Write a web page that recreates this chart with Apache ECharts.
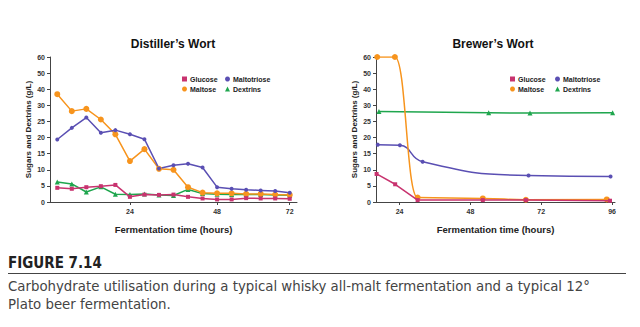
<!DOCTYPE html>
<html>
<head>
<meta charset="utf-8">
<script src="https://cdn.jsdelivr.net/npm/echarts@6/dist/echarts.min.js"></script>
<style>
html,body{margin:0;padding:0;background:#fff;}
#c{width:640px;height:327px;}
</style>
</head>
<body>
<div id="c"></div>
<script>
// ---- data ----
const seriesNames = ['Glucose', 'Maltotriose', 'Maltose', 'Dextrins'];
const yTickLabels = [0, 5, 10, 15, 20, 25, 30, 40, 50, 60];

// Distiller's wort: 17 samples, category axis, labels only at some samples
const leftSamples = ['s1','s2','s3','s4','s5','s6','s7','s8','s9','s10','s11','s12','s13','s14','s15','s16','s17'];
const leftTickLabels = {5: '24', 11: '48', 16: '72'};
const leftGlucose     = [4.4, 4.1, 4.6, 4.9, 5.3, 1.6, 2.3, 2.2, 2.3, 1.6, 1.1, 0.8, 0.8, 1.2, 1.1, 1.1, 1.0];
const leftMaltotriose = [19.4, 23.0, 26.2, 21.5, 22.3, 21.0, 19.5, 10.4, 11.4, 11.9, 10.7, 4.6, 4.1, 3.8, 3.6, 3.4, 2.9];
const leftMaltose     = [36.9, 28.2, 28.9, 25.6, 21.0, 12.7, 16.4, 10.3, 10.0, 4.6, 2.9, 2.7, 2.7, 2.5, 2.5, 2.3, 2.2];
const leftDextrins    = [6.2, 5.6, 3.1, 4.7, 2.4, 2.3, 2.5, 2.2, 2.0, 3.9, 2.6, 2.4, 2.3, 2.3, 2.3, 2.2, 2.1];

// Brewer's wort: time (hours) and values
const rightTicks = [24, 48, 72, 96];
const rightGlucoseT     = [16.2, 22.5, 30.1, 52.2, 66.8, 95.3];
const rightGlucose      = [8.7, 5.5, 0.6, 0.6, 0.6, 0.4];
const rightMaltoseT     = [16.4, 22.4, 30.1, 52.2, 66.8, 94.2];
const rightMaltose      = [60, 60, 1.4, 1.1, 0.7, 0.8];
const rightMaltotrioseT = [16.6, 24.1, 31.8, 67.7, 95.5];
const rightMaltotriose  = [17.8, 17.6, 12.5, 8.2, 7.9];
const rightDextrinsT    = [17.0, 54.2, 68.2, 96.2];
const rightDextrins     = [28.1, 27.7, 27.6, 27.7];

// ---- styling ----
const colors = {Glucose: '#c8336f', Maltotriose: '#5a4fb3', Maltose: '#f7941d', Dextrins: '#1fa64e'};
const symbols = {Glucose: 'rect', Maltotriose: 'circle', Maltose: 'circle', Dextrins: 'triangle'};
const symSizes = {Glucose: 4, Maltotriose: 4, Maltose: 6, Dextrins: 5};
const FONT = '"Liberation Sans", Arial, Helvetica, sans-serif';
const CAPFONT = '"Liberation Sans Narrow", "DejaVu Sans Condensed", ' + FONT;

// the printed axis is evenly spaced but labelled 0..30 by 5 then 40,50,60
function toAxis(v) {
  for (let i = 0; i < yTickLabels.length - 1; i++) {
    const a = yTickLabels[i], b = yTickLabels[i + 1];
    if (v <= b || i === yTickLabels.length - 2) {
      return i * 5 + 5 * (v - a) / (b - a);
    }
  }
  return 0;
}

function lineSeries(name, idx, data, smooth, mono) {
  const s = {
    type: 'line', name: name, xAxisIndex: idx, yAxisIndex: idx,
    data: data, smooth: smooth || false,
    symbol: symbols[name], symbolSize: symSizes[name], showAllSymbol: true,
    lineStyle: {color: colors[name], width: 1.5},
    itemStyle: {color: colors[name]},
    emphasis: {disabled: true}, animation: false, z: name === 'Glucose' ? 3 : 2
  };
  if (mono) s.smoothMonotone = 'x';
  return s;
}

const series = [
  lineSeries('Dextrins', 0, leftDextrins.map(toAxis)),
  lineSeries('Maltose', 0, leftMaltose.map(toAxis)),
  lineSeries('Maltotriose', 0, leftMaltotriose.map(toAxis)),
  lineSeries('Glucose', 0, leftGlucose.map(toAxis)),
  lineSeries('Dextrins', 1, rightDextrinsT.map((t, i) => [t, toAxis(rightDextrins[i])])),
  lineSeries('Maltotriose', 1, rightMaltotrioseT.map((t, i) => [t, toAxis(rightMaltotriose[i])]), 0.5, false),
  lineSeries('Maltose', 1, rightMaltoseT.map((t, i) => [t, toAxis(rightMaltose[i])]), 0.5, true),
  lineSeries('Glucose', 1, rightGlucoseT.map((t, i) => [t, toAxis(rightGlucose[i])]))
];

const axisLineStyle = {show: true, lineStyle: {color: '#444', width: 1}};
const tickLabelStyle = {color: '#333', fontSize: 7, fontWeight: 'bold', fontFamily: FONT};
const nameStyle = {color: '#222', fontSize: 9.5, fontWeight: 'bold', fontFamily: FONT};

function yAxis(gi) {
  return {
    type: 'value', gridIndex: gi, min: 0, max: 45, interval: 5,
    axisLine: axisLineStyle,
    axisTick: {show: true, inside: false, length: 3, lineStyle: {color: '#444'}},
    axisLabel: Object.assign({margin: 5, formatter: v => String(yTickLabels[Math.round(v / 5)])}, tickLabelStyle),
    splitLine: {show: false},
    name: 'Sugars and Dextrins (g/L)', nameLocation: 'middle', nameRotate: 90, nameGap: 18,
    nameTextStyle: {color: '#222', fontSize: 8, fontWeight: 'bold', fontFamily: FONT}
  };
}

function legendCol(names, left) {
  return {
    orient: 'vertical', left: left, top: 75, padding: 0,
    itemWidth: 5, itemHeight: 5, itemGap: 2,
    selectedMode: false,
    data: names.map(n => ({name: n, icon: symbols[n], itemStyle: {color: colors[n]}})),
    textStyle: {color: '#222', fontSize: 7, fontWeight: 'bold', fontFamily: FONT, lineHeight: 8, padding: [0, 0, 0, -2]}
  };
}

const option = {
  animation: false,
  grid: [
    {left: 50, top: 57, width: 247, height: 145},
    {left: 376, top: 57, width: 239, height: 145}
  ],
  xAxis: [
    {
      type: 'category', gridIndex: 0, data: leftSamples, boundaryGap: true,
      axisLine: axisLineStyle,
      axisTick: {show: true, alignWithLabel: true, length: 3, interval: (i) => leftTickLabels[i] !== undefined, lineStyle: {color: '#444'}},
      axisLabel: Object.assign({interval: 0, margin: 6, formatter: (v, i) => leftTickLabels[i] || ''}, tickLabelStyle),
      name: 'Fermentation time (hours)', nameLocation: 'middle', nameGap: 22, nameTextStyle: nameStyle
    },
    {
      type: 'value', gridIndex: 1, min: 16, max: 97,
      axisLine: axisLineStyle,
      axisTick: {show: true, length: 3, customValues: rightTicks, lineStyle: {color: '#444'}},
      axisLabel: Object.assign({margin: 6, customValues: rightTicks}, tickLabelStyle),
      splitLine: {show: false},
      name: 'Fermentation time (hours)', nameLocation: 'middle', nameGap: 22, nameTextStyle: nameStyle
    }
  ],
  yAxis: [yAxis(0), yAxis(1)],
  legend: [
    legendCol(['Glucose', 'Maltose'], 182),
    legendCol(['Maltotriose', 'Dextrins'], 225),
    legendCol(['Glucose', 'Maltose'], 510),
    legendCol(['Maltotriose', 'Dextrins'], 555)
  ],
  graphic: [
    {type: 'text', x: 173, y: 44, style: {text: 'Distiller\u2019s Wort', fill: '#111', font: 'bold 12px ' + FONT, align: 'center', verticalAlign: 'middle'}},
    {type: 'text', x: 493, y: 44, style: {text: 'Brewer\u2019s Wort', fill: '#111', font: 'bold 12px ' + FONT, align: 'center', verticalAlign: 'middle'}},
    {type: 'text', x: 8, y: 263, style: {text: 'FIGURE 7.14', fill: '#222', font: 'bold 15px ' + CAPFONT, align: 'left', verticalAlign: 'middle'}},
    {type: 'line', shape: {x1: 8, y1: 273.5, x2: 626, y2: 273.5}, style: {stroke: '#444', lineWidth: 1}},
    {type: 'text', x: 8, y: 285, style: {text: 'Carbohydrate utilisation during a typical whisky all-malt fermentation and a typical 12\u00b0', fill: '#444', font: '14.8px ' + CAPFONT, align: 'left', verticalAlign: 'middle'}},
    {type: 'text', x: 8, y: 303, style: {text: 'Plato beer fermentation.', fill: '#444', font: '14.8px ' + CAPFONT, align: 'left', verticalAlign: 'middle'}}
  ],
  series: series
};

const chart = echarts.init(document.getElementById('c'), null, {renderer: 'svg', width: 640, height: 327});
chart.setOption(option);
</script>
</body>
</html>
